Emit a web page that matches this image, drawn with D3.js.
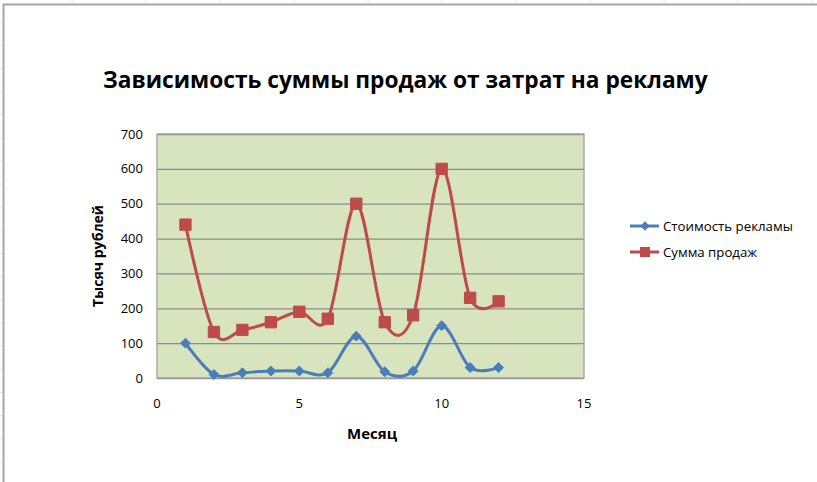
<!DOCTYPE html>
<html>
<head>
<meta charset="utf-8">
<script src="https://cdn.jsdelivr.net/npm/d3@7"></script>
<style>
  body { margin: 0; background: #fff; }
  svg text { font-family: "Open Sans", "Noto Sans", sans-serif; fill: #000; }
</style>
</head>
<body>
<svg id="chart" width="817" height="482"></svg>
<script>
// chart data
var months = [1, 2, 3, 4, 5, 6, 7, 8, 9, 10, 11, 12];
var adCost = [100, 10, 15, 20, 20, 15, 120, 18, 20, 150, 30, 30];
var salesSum = [440, 132, 138, 160, 190, 170, 500, 160, 180, 600, 230, 220];
var xTicks = [0, 5, 10, 15];
var yTicks = [0, 100, 200, 300, 400, 500, 600, 700];
var seriesNames = ["Стоимость рекламы", "Сумма продаж"];

var svg = d3.select("#chart");

// fit text to a given width by changing the font size
function fit(sel, w) {
  var n = sel.node();
  var fs = parseFloat(sel.attr("font-size"));
  var len = n.getComputedTextLength();
  sel.attr("font-size", (fs * w / len).toFixed(2));
  return sel;
}

// sheet frame with faint grid stubs
svg.append("line").attr("x1", 3).attr("x2", 817).attr("y1", 4.5).attr("y2", 4.5)
  .attr("stroke", "#a6a6a6").attr("stroke-width", 2);
svg.append("line").attr("x1", 3.5).attr("x2", 3.5).attr("y1", 4).attr("y2", 482)
  .attr("stroke", "#a6a6a6").attr("stroke-width", 2);
var colStubs = d3.range(72, 817, 74);
svg.selectAll(".cstub").data(colStubs).enter().append("line")
  .attr("x1", function(d) { return d; }).attr("x2", function(d) { return d; })
  .attr("y1", 0).attr("y2", 3).attr("stroke", "#e2e4f0");
var rowStubs = d3.range(22, 482, 23.15);
svg.selectAll(".rstub").data(rowStubs).enter().append("line")
  .attr("x1", 0).attr("x2", 2).attr("y1", function(d) { return d; }).attr("y2", function(d) { return d; })
  .attr("stroke", "#e2e4f0");

var margin = {left: 157, top: 134, right: 584, bottom: 378};
var x = d3.scaleLinear().domain([0, 15]).range([margin.left, margin.right]);
var y = d3.scaleLinear().domain([0, 700]).range([margin.bottom, margin.top]);

// plot area
svg.append("rect")
  .attr("x", x(0)).attr("y", y(700))
  .attr("width", x(15) - x(0)).attr("height", y(0) - y(700))
  .attr("fill", "#d7e4bd");

svg.append("g")
  .attr("transform", "translate(" + x(0) + ",0)")
  .call(d3.axisLeft(y).tickValues(yTicks).tickSize(-(x(15) - x(0))).tickFormat(""))
  .call(function(g) {
    g.select(".domain").remove();
    g.selectAll(".tick line").attr("stroke", "#8c8c8c").attr("stroke-width", 1.3);
  });

svg.append("rect")
  .attr("x", x(0)).attr("y", y(700))
  .attr("width", x(15) - x(0)).attr("height", y(0) - y(700))
  .attr("fill", "none").attr("stroke", "#a0a0a0").attr("stroke-width", 1.3);

// tick labels
svg.selectAll(".ylab").data(yTicks).enter().append("text")
  .attr("x", 143).attr("y", function(d) { return y(d); })
  .attr("dy", "0.35em").attr("text-anchor", "end")
  .attr("font-size", 13).text(function(d) { return d; });

svg.selectAll(".xlab").data(xTicks).enter().append("text")
  .attr("x", function(d) { return x(d); }).attr("y", 408)
  .attr("text-anchor", "middle")
  .attr("font-size", 13).text(function(d) { return d; });

// titles
var title = svg.append("text").attr("x", 103).attr("y", 88)
  .attr("font-size", 22).attr("font-weight", "bold")
  .text("Зависимость суммы продаж от затрат на рекламу");
fit(title, 605);

var xt = svg.append("text").attr("x", 372).attr("y", 439)
  .attr("text-anchor", "middle").attr("font-size", 13).attr("font-weight", "bold")
  .text("Месяц");
fit(xt, 50);

var yt = svg.append("text").attr("transform", "translate(103,256) rotate(-90)")
  .attr("text-anchor", "middle").attr("font-size", 13).attr("font-weight", "bold")
  .text("Тысяч рублей");
fit(yt, 102);

// series
var colors = ["#4a7ebb", "#be4b48"];
var series = [adCost, salesSum];

var line = d3.line()
  .x(function(d) { return x(d[0]); })
  .y(function(d) { return y(d[1]); })
  .curve(d3.curveCardinal);

series.forEach(function(vals, i) {
  var pts = d3.zip(months, vals);
  svg.append("path").datum(pts)
    .attr("d", line).attr("fill", "none")
    .attr("stroke", colors[i]).attr("stroke-width", 3)
    .attr("stroke-linejoin", "round");
  var sym = i === 0 ? d3.symbolDiamond2 : d3.symbolSquare;
  var size = i === 0 ? 62 : 128;
  svg.selectAll(".m" + i).data(pts).enter().append("path")
    .attr("transform", function(d) { return "translate(" + x(d[0]) + "," + y(d[1]) + ")"; })
    .attr("d", d3.symbol().type(sym).size(size))
    .attr("fill", colors[i]).attr("stroke", colors[i]).attr("stroke-width", 1);
});

// legend
var legY = [226, 252];
seriesNames.forEach(function(name, i) {
  var g = svg.append("g").attr("transform", "translate(0," + legY[i] + ")");
  g.append("line").attr("x1", 630).attr("x2", 659).attr("y1", 0).attr("y2", 0)
    .attr("stroke", colors[i]).attr("stroke-width", 3);
  var sym = i === 0 ? d3.symbolDiamond2 : d3.symbolSquare;
  var size = i === 0 ? 55 : 100;
  g.append("path").attr("transform", "translate(645,0)")
    .attr("d", d3.symbol().type(sym).size(size)).attr("fill", colors[i]);
  var t = g.append("text").attr("x", 663).attr("y", 0).attr("dy", "0.35em")
    .attr("font-size", 12).text(name);
  fit(t, i === 0 ? 130 : 94);
});
</script>
</body>
</html>
